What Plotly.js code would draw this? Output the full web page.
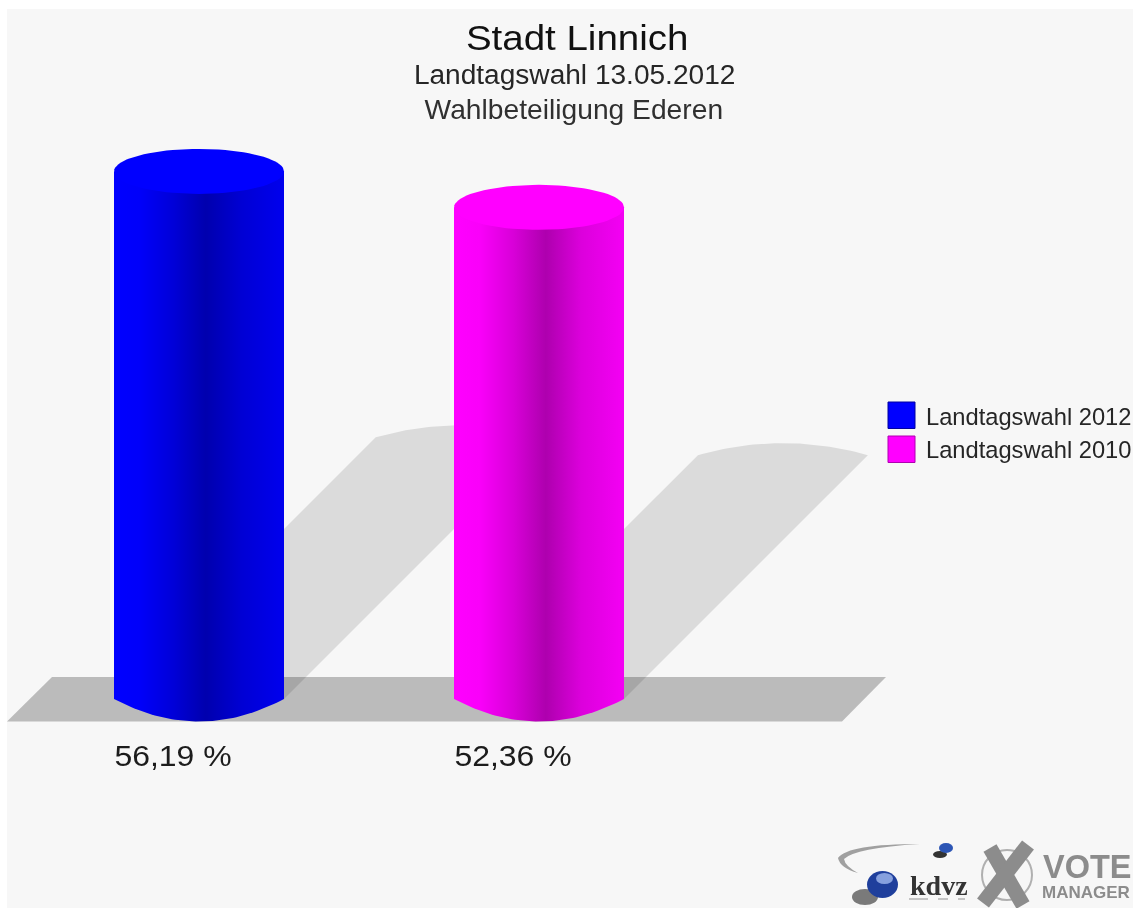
<!DOCTYPE html>
<html><head><meta charset="utf-8">
<script src="https://cdn.plot.ly/plotly-3.0.1.min.js"></script>
<style>html,body{margin:0;padding:0;background:#fff}#c{width:1133px;height:908px;filter:blur(0.6px)}</style>
</head><body><div id="c"></div>
<script>
// ---- data ----
const seriesNames = ['Landtagswahl 2012', 'Landtagswahl 2010'];
const turnout = [56.19, 52.36];
const valueLabels = ['56,19 %', '52,36 %'];
const titleLines = ['Stadt Linnich', 'Landtagswahl 13.05.2012', 'Wahlbeteiligung Ederen'];

// ---- styling ----
const W = 1133, H = 908;
const pxPerX = 340, x0Px = 199, pxPerY = 9.39, y0Px = 699;
const faceColors = ['#0000ff', '#ff00ff'];
const gradients = [
  [[0,'#0000ff'],[0.15,'#0000fa'],[0.35,'#0000d8'],[0.54,'#0000ae'],[0.75,'#0000d4'],[1,'#0000ee']],
  [[0,'#ff00ff'],[0.15,'#fa00fa'],[0.35,'#d800d8'],[0.54,'#ae00ae'],[0.75,'#dc00dc'],[1,'#f400f4']]
];
const halfW = 85 / pxPerX, ry = 22.5 / pxPerY;       // cylinder radii in axis units
const shadowRy = 12 / pxPerY, shadowK = 0.496;

const xOf = p => (p - x0Px) / pxPerX;
const yOf = p => (y0Px - p) / pxPerY;
const px = v => v / W, py = v => 1 - v / H;           // paper coordinates

function arc(cx, cy, rx, rY, a0, a1, n) {
  const xs = [], ys = [];
  for (let i = 0; i <= n; i++) {
    const t = a0 + (a1 - a0) * i / n;
    xs.push(cx + rx * Math.cos(t)); ys.push(cy + rY * Math.sin(t));
  }
  return [xs, ys];
}
// shallow curved edge with visible corners at both ends
function bow(cx, cy, rx, rise, n) {
  const xs = [], ys = [];
  for (let i = 0; i <= n; i++) {
    const t = -1 + 2 * i / n;
    xs.push(cx + rx * t); ys.push(cy + rise * (1 - t * t));
  }
  return [xs, ys];
}

const traces = [];
// cast shadows
turnout.forEach((v, i) => {
  const dx = v * pxPerY * shadowK / pxPerX, dy = v * shadowK;
  const [ax, ay] = bow(i + dx, dy, halfW, shadowRy, 40);
  traces.push({type:'scatter', mode:'lines', x:[i - halfW, ...ax, i + halfW], y:[0, ...ay, 0],
    fill:'toself', fillcolor:'rgba(0,0,0,0.11)', line:{width:0}, hoverinfo:'skip', showlegend:false});
});
// cylinder bodies and lids
turnout.forEach((v, i) => {
  const [bx, by] = bow(i, 0, halfW, -ry, 50);
  traces.push({type:'scatter', mode:'lines', name:seriesNames[i],
    x:[...bx, i + halfW, i - halfW, i - halfW], y:[...by, v, v, 0],
    fill:'toself', fillgradient:{type:'horizontal', colorscale:gradients[i]},
    line:{width:0}, hoverinfo:'skip', showlegend:false});
  const [tx, ty] = arc(i, v, halfW, ry, 0, 2 * Math.PI, 80);
  traces.push({type:'scatter', mode:'lines', x:tx, y:ty, fill:'toself', fillcolor:faceColors[i],
    line:{width:0}, hoverinfo:'skip', showlegend:false});
});

const P = (x0,y0,x1,y1) => ({x0:px(x0),y0:py(y0),x1:px(x1),y1:py(y1),xref:'paper',yref:'paper'});
const poly = pts => 'M' + pts.map(p => px(p[0]) + ',' + py(p[1])).join('L') + 'Z';
const shapes = [
  {type:'rect', ...P(7,9,W,H), fillcolor:'#f7f7f7', line:{width:0}, layer:'below'},
  {type:'path', xref:'paper', yref:'paper', path:poly([[7,721.5],[52,677],[886,677],[842,721.5]]),
    fillcolor:'#bbbbbb', line:{width:0}, layer:'below'}
];
// legend swatches
seriesNames.forEach((n, i) => shapes.push({type:'rect', ...P(888,402+34*i,915,428.5+34*i),
  fillcolor:faceColors[i], line:{color:i?'#b000b0':'#0000a0', width:1}, layer:'above'}));
// logo marks
const grey = '#8c8c8c';
shapes.push(
  {type:'path', xref:'paper', yref:'paper', layer:'above', fillcolor:'#a0a0a0', line:{width:0},
   path:'M'+px(920)+','+py(844)+'Q'+px(848)+','+py(844)+' '+px(838)+','+py(858)+'Q'+px(840)+','+py(868)+' '+px(858)+','+py(873)+
        'Q'+px(845)+','+py(866)+' '+px(844)+','+py(859)+'Q'+px(855)+','+py(848)+' '+px(920)+','+py(844)+'Z'},
  {type:'circle', ...P(852,889,878,905), fillcolor:'#444444', line:{width:0}, layer:'above', opacity:0.7},
  {type:'circle', ...P(867,871,898,898), fillcolor:'#1f3f9c', line:{width:0}, layer:'above'},
  {type:'circle', ...P(876,873,893,884), fillcolor:'#86a0de', line:{width:0}, layer:'above'},
  {type:'circle', ...P(933,851,947,858), fillcolor:'#333333', line:{width:0}, layer:'above'},
  {type:'circle', ...P(939,843,953,853), fillcolor:'#2c55b5', line:{width:0}, layer:'above'},
  {type:'circle', ...P(982,850,1032,900), fillcolor:'rgba(0,0,0,0)', line:{color:'#b0b0b0',width:2}, layer:'above'},
  {type:'line', ...P(990,848,1023,905), line:{color:grey,width:15}, layer:'above'},
  {type:'line', ...P(1028,845,983,903), line:{color:grey,width:15}, layer:'above'},
  {type:'line', ...P(909,899,928,899), line:{color:'#c4c4c4',width:2}, layer:'above'},
  {type:'line', ...P(938,899,948,899), line:{color:'#c4c4c4',width:2}, layer:'above'},
  {type:'line', ...P(958,899,965,899), line:{color:'#c4c4c4',width:2}, layer:'above'}
);

const sans = 'Liberation Sans, Arial, sans-serif';
const ann = (x, y, text, size, color, extra, bold, family) => Object.assign({xref:'paper', yref:'paper', x:px(x), y:py(y),
  text, showarrow:false, xanchor:'center', yanchor:'middle',
  font:{family:family||sans, size, color, weight:bold?700:400}}, extra||{});
const annotations = [
  ann(576.5, 38, titleLines[0], 35, '#111111'),
  ann(574, 75, titleLines[1], 27, '#262626'),
  ann(574, 110, titleLines[2], 27, '#303030'),
  ...valueLabels.map((t, i) => ({xref:'x', yref:'paper', x:i - 0.076, y:py(755), text:t, showarrow:false,
    xanchor:'center', yanchor:'middle', font:{family:sans, size:30, color:'#1c1c1c'}})),
  ...seriesNames.map((t, i) => ann(924, 416.5+34*i, t, 23.7, '#262626', {xanchor:'left'})),
  ann(939, 885, 'kdvz', 28, '#333333', null, true, 'Liberation Serif, serif'),
  ann(1041, 867, 'VOTE', 32.5, grey, {xanchor:'left'}, true),
  ann(1040, 892, 'MANAGER', 17, grey, {xanchor:'left'}, true)
];
// reference lettering is slightly wider than the font: horizontal stretch per annotation
const stretch = [1.10, 1.04, 1.045, 1.065, 1.065];

const layout = {
  width:W, height:H, margin:{l:0,r:0,t:0,b:0}, paper_bgcolor:'#ffffff', plot_bgcolor:'rgba(0,0,0,0)',
  showlegend:false,
  xaxis:{range:[xOf(0), xOf(W)], visible:false, fixedrange:true},
  yaxis:{range:[yOf(H), yOf(0)], visible:false, fixedrange:true},
  shapes, annotations
};
Plotly.newPlot('c', traces, layout, {displayModeBar:false, staticPlot:true}).then(() => {
  stretch.forEach((s, i) => {
    const t = document.querySelector('.annotation[data-index="' + i + '"] text');
    if (t) { t.style.transformBox = 'fill-box'; t.style.transformOrigin = 'center'; t.style.transform = 'scaleX(' + s + ')'; }
  });
});
</script></body></html>
